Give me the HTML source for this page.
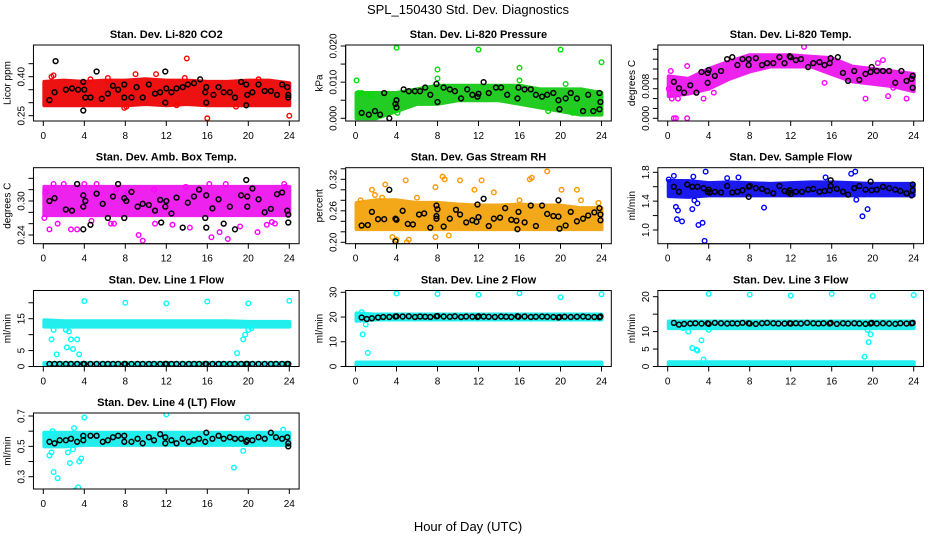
<!DOCTYPE html>
<html><head><meta charset="utf-8"><style>
html,body{margin:0;padding:0;background:#fff;}
svg{display:block;font-family:"Liberation Sans",Arial,sans-serif;}
</style></head><body>
<svg id="chart" width="936" height="540" viewBox="0 0 936 540" xmlns="http://www.w3.org/2000/svg">
<rect width="936" height="540" fill="#fff"/>
<text x="468" y="14" text-anchor="middle" font-size="13">SPL_150430  Std. Dev. Diagnostics</text>
<text x="468" y="531" text-anchor="middle" font-size="13">Hour of Day (UTC)</text>
<g id="panels"></g>
</svg>
<script>
// ---- shared data ----
const xTicks = [0,4,8,12,16,20,24];
const bandHours = [0,2,4,6,8,10,12,14,16,18,20,22,24];
const flowHours = [0.6,1.1,1.6,2.2,2.7,3.3,3.9,4.0,4.6,5.2,5.8,6.3,6.8,7.3,7.9,8.0,8.6,9.2,9.7,10.3,10.8,11.4,11.9,12.0,12.5,13.0,13.6,14.2,14.7,15.2,15.8,15.9,16.5,17.1,17.6,18.2,18.7,19.3,19.8,19.9,20.4,21.0,21.6,22.2,22.7,23.3,23.8,23.9];

// ---- CO2 ----
const co2Lo = [0.29,0.29,0.29,0.29,0.29,0.295,0.29,0.295,0.29,0.29,0.29,0.29,0.29];
const co2Hi = [0.38,0.385,0.38,0.385,0.385,0.39,0.385,0.385,0.38,0.38,0.385,0.385,0.375];
const co2Black = [[0.6,0.31],[1.2,0.46],[1.1,0.34],[2.2,0.35],[2.8,0.355],[3.4,0.35],[3.9,0.38],[3.9,0.27],[4.0,0.35],[4.1,0.32],[4.6,0.32],[5.2,0.42],[5.7,0.315],[6.3,0.335],[6.8,0.365],[7.3,0.35],[7.9,0.32],[7.9,0.37],[8.6,0.32],[9.1,0.36],[9.7,0.32],[10.3,0.37],[10.9,0.335],[11.4,0.34],[11.9,0.42],[11.9,0.30],[12.0,0.355],[12.5,0.34],[13.0,0.355],[13.6,0.36],[14.1,0.37],[14.7,0.375],[15.3,0.39],[15.8,0.34],[15.9,0.36],[15.9,0.30],[16.6,0.33],[17.1,0.36],[17.6,0.34],[18.2,0.34],[18.7,0.32],[19.3,0.38],[19.8,0.37],[19.9,0.33],[19.8,0.29],[20.4,0.34],[21.0,0.37],[21.6,0.345],[22.2,0.345],[22.8,0.33],[23.3,0.37],[23.8,0.36],[23.9,0.33],[23.9,0.32]];
const co2Out = [[14,0.47],[16,0.24],[24,0.25],[7.9,0.28],[8.1,0.285],[13,0.29],[0.8,0.40],[1.0,0.405],[9,0.41],[11,0.41],[4.6,0.39],[6.3,0.395],[13.8,0.395],[18.8,0.285],[21.0,0.39]];

// ---- Pressure ----
const presLo = [0.000,0.000,0.002,0.004,0.004,0.005,0.005,0.005,0.004,0.003,0.002,0.001,0.001];
const presHi = [0.007,0.007,0.007,0.008,0.009,0.009,0.009,0.009,0.009,0.008,0.008,0.008,0.007];
const presBlack = [[0.6,0.0015],[1.3,0.001],[1.9,0.002],[2.4,0.001],[2.8,0.007],[3.3,0.0],[3.9,0.004],[4.0,0.005],[4.0,0.003],[4.7,0.008],[5.2,0.0075],[5.8,0.0075],[6.3,0.0075],[6.8,0.0085],[7.3,0.0065],[7.9,0.0095],[8.0,0.0045],[8.6,0.0085],[9.2,0.008],[9.7,0.0075],[10.3,0.0055],[10.9,0.008],[11.4,0.0065],[11.9,0.006],[12.0,0.0068],[12.5,0.01],[13.0,0.007],[13.7,0.0085],[14.2,0.0085],[14.8,0.0065],[15.8,0.0055],[15.9,0.0085],[16.5,0.008],[17.1,0.008],[17.6,0.0065],[18.2,0.006],[18.7,0.0065],[19.3,0.007],[19.8,0.005],[19.9,0.0025],[20.5,0.0055],[21.0,0.007],[21.6,0.0055],[22.2,0.002],[22.7,0.0065],[23.2,0.002],[23.8,0.0025],[23.9,0.0045],[23.8,0.007]];
const presOut = [[0.1,0.0105],[4.0,0.0195],[12,0.019],[20,0.019],[24,0.0155],[8,0.0135],[8,0.011],[16,0.014],[16,0.0105],[4.1,0.0015],[20.5,0.0095],[0.3,0.007],[0.6,0.007],[1.5,0.0065],[18.8,0.002],[21.2,0.0015]];

// ---- Li-820 Temp ----
const tempLo = [0.0045,0.005,0.006,0.008,0.0095,0.0105,0.0105,0.0105,0.009,0.0075,0.007,0.0065,0.0055];
const tempHi = [0.0085,0.008,0.010,0.0115,0.0128,0.0128,0.0128,0.0125,0.0122,0.0105,0.010,0.0095,0.009];
const tempBlack = [[0.6,0.0074],[1.1,0.0061],[1.6,0.0052],[2.2,0.0067],[2.8,0.0052],[3.3,0.0094],[3.9,0.0072],[3.9,0.0092],[4.0,0.0098],[4.6,0.0086],[5.2,0.0096],[5.8,0.0120],[6.3,0.0124],[6.8,0.0108],[7.3,0.0120],[7.9,0.0120],[7.9,0.0108],[8.6,0.0122],[9.2,0.0108],[9.7,0.0112],[10.3,0.0112],[10.9,0.0124],[11.4,0.0112],[11.9,0.0126],[12.0,0.0124],[12.5,0.0118],[13.0,0.0120],[13.7,0.0104],[14.2,0.0112],[14.8,0.0114],[15.3,0.0108],[15.8,0.0112],[15.9,0.0122],[16.6,0.0124],[17.1,0.0092],[17.6,0.0076],[18.2,0.0096],[18.7,0.0078],[19.3,0.0090],[19.8,0.0094],[19.9,0.0104],[20.4,0.0096],[21.0,0.0096],[21.6,0.0096],[22.2,0.0072],[22.8,0.0096],[23.3,0.0076],[23.9,0.0086],[23.9,0.0062],[23.8,0.0080]];
const tempOut = [[0.6,0.0],[0.8,0.0],[1.9,0.0],[0.4,0.004],[1.0,0.004],[3.5,0.004],[19.3,0.004],[21.5,0.0045],[23.3,0.004],[13.3,0.0145],[15.3,0.0072],[4.5,0.0052],[0.3,0.0096],[1.9,0.0106],[21.0,0.0118],[20.5,0.0112],[22.0,0.0062],[0.1,0.006]];

// ---- Amb Box Temp ----
const ambLo = [0.275,0.275,0.275,0.275,0.275,0.275,0.275,0.275,0.275,0.275,0.275,0.275,0.275];
const ambHi = [0.325,0.325,0.325,0.325,0.325,0.325,0.325,0.325,0.325,0.325,0.325,0.325,0.325];
const ambBlack = [[0.6,0.30],[1.1,0.305],[2.2,0.285],[2.8,0.283],[3.3,0.33],[3.9,0.31],[3.9,0.29],[3.9,0.25],[4.1,0.30],[4.6,0.258],[5.2,0.313],[5.8,0.295],[6.3,0.27],[6.8,0.308],[7.3,0.33],[7.9,0.305],[7.9,0.27],[8.1,0.30],[8.6,0.316],[9.2,0.29],[9.7,0.295],[10.3,0.293],[10.9,0.283],[11.4,0.302],[11.5,0.262],[11.9,0.29],[12.0,0.30],[12.5,0.278],[13.0,0.306],[13.6,0.253],[14.1,0.297],[14.7,0.308],[15.2,0.320],[15.8,0.27],[15.9,0.31],[15.9,0.253],[16.5,0.287],[17.1,0.303],[17.6,0.260],[18.2,0.290],[18.7,0.250],[19.3,0.310],[19.8,0.337],[19.9,0.308],[19.9,0.290],[20.4,0.322],[21.0,0.303],[21.6,0.28],[22.2,0.286],[22.8,0.312],[23.3,0.315],[23.8,0.283],[23.9,0.276],[23.9,0.262]];
const ambOut = [[0.6,0.25],[1.4,0.26],[2.7,0.25],[3.3,0.25],[4.0,0.33],[5.2,0.33],[6.6,0.26],[9.3,0.24],[9.7,0.23],[10.9,0.26],[12.6,0.258],[14.3,0.253],[16.4,0.236],[17.2,0.245],[17.8,0.33],[18.0,0.233],[20.9,0.245],[21.8,0.258],[22.3,0.263],[23.5,0.33],[23.6,0.325],[1.0,0.33],[0.2,0.315],[7.1,0.32],[10.8,0.32],[8.2,0.315],[13.9,0.325],[0.1,0.27],[2.0,0.33],[4.7,0.265],[6.9,0.26],[19.2,0.255],[22.6,0.26],[16.2,0.33]];

// ---- Gas Stream RH ----
const rhLo = [0.225,0.225,0.225,0.225,0.225,0.225,0.225,0.225,0.225,0.225,0.225,0.225,0.225];
const rhHi = [0.275,0.28,0.28,0.275,0.275,0.272,0.27,0.27,0.272,0.27,0.27,0.265,0.265];
const rhBlack = [[0.6,0.232],[1.2,0.233],[1.6,0.258],[2.2,0.244],[2.8,0.244],[3.3,0.30],[3.9,0.245],[3.9,0.202],[4.0,0.243],[4.6,0.260],[5.1,0.235],[5.6,0.234],[6.2,0.253],[6.7,0.255],[7.3,0.228],[7.9,0.270],[7.9,0.250],[7.9,0.245],[8.0,0.263],[8.6,0.230],[9.2,0.245],[9.8,0.262],[10.2,0.253],[10.8,0.238],[11.4,0.242],[11.8,0.239],[11.9,0.272],[12.0,0.248],[12.5,0.283],[13.0,0.231],[13.5,0.245],[14.1,0.247],[14.6,0.265],[15.2,0.243],[15.7,0.241],[15.8,0.225],[15.9,0.258],[16.5,0.238],[17.1,0.270],[17.6,0.231],[18.2,0.270],[18.7,0.254],[19.3,0.250],[19.8,0.249],[19.8,0.280],[19.9,0.226],[20.5,0.232],[21.0,0.258],[21.6,0.240],[22.2,0.245],[22.7,0.251],[23.3,0.257],[23.8,0.265],[23.9,0.253],[23.9,0.242]];
const rhOut = [[4.9,0.318],[2.9,0.31],[8.5,0.325],[8.7,0.32],[10.2,0.318],[12.3,0.318],[17.0,0.32],[17.2,0.323],[18.7,0.335],[20.1,0.30],[21.6,0.30],[1.9,0.29],[1.6,0.30],[7.8,0.305],[4.0,0.205],[5.0,0.2],[5.2,0.205],[7.8,0.21],[9.1,0.213],[3.6,0.21],[22.0,0.28],[16.0,0.28],[6.0,0.285],[2.6,0.285],[11.6,0.3],[13.5,0.295],[0.5,0.28],[23.7,0.275]];

// ---- Sample Flow ----
const sfLo = [1.47,1.46,1.48,1.48,1.48,1.48,1.48,1.48,1.48,1.48,1.48,1.48,1.48];
const sfHi = [1.68,1.68,1.65,1.66,1.65,1.64,1.65,1.66,1.66,1.65,1.64,1.64,1.64];
const sfBlack = [[0.6,1.60],[1.1,1.53],[1.9,1.63],[2.4,1.60],[2.9,1.60],[3.5,1.58],[3.9,1.53],[4.0,1.56],[4.1,1.52],[4.6,1.53],[5.2,1.52],[5.8,1.61],[6.3,1.52],[6.8,1.53],[7.3,1.55],[7.9,1.46],[7.9,1.60],[8.0,1.61],[8.6,1.58],[9.2,1.57],[9.7,1.54],[10.3,1.51],[10.9,1.61],[11.4,1.54],[11.8,1.52],[11.9,1.55],[12.0,1.50],[12.5,1.53],[13.1,1.53],[13.7,1.56],[14.2,1.57],[14.8,1.53],[15.3,1.54],[15.8,1.55],[15.9,1.61],[15.9,1.69],[16.5,1.57],[17.1,1.53],[17.6,1.49],[18.2,1.58],[18.7,1.61],[19.3,1.56],[19.8,1.67],[19.9,1.55],[20.4,1.56],[21.0,1.60],[21.6,1.58],[22.2,1.56],[22.7,1.54],[23.3,1.51],[23.8,1.48],[23.9,1.55],[23.9,1.63]];
const sfOut = [[0.9,1.15],[1.4,1.12],[0.8,1.32],[1.0,1.27],[2.4,1.29],[2.6,1.41],[2.9,1.37],[3.0,1.07],[3.4,1.10],[3.6,0.85],[3.7,1.81],[0.6,1.75],[2.5,1.74],[9.4,1.31],[17.9,1.78],[18.3,1.81],[19.0,1.19],[19.5,1.29],[18.4,1.42],[6.9,1.73],[15.4,1.73],[0.1,1.70],[5.8,1.72]];

// ---- Line 1 Flow ----
const l1Lo = [12.5,12.5,12.5,12.5,12.5,12.5,12.5,12.5,12.5,12.5,12.5,12.5,12.5];
const l1Hi = [14.5,14.2,14.2,14.2,14.2,14.2,14.2,14.2,14.2,14.2,14.0,14.0,14.0];
const l1BaseLo = [0.4,0.4,0.4,0.4,0.4,0.4,0.4,0.4,0.4,0.4,0.4,0.4,0.4];
const l1BaseHi = [1.1,1.1,1.1,1.1,1.1,1.1,1.1,1.1,1.1,1.1,1.1,1.1,1.1];
const l1BlackVals = [0.8,0.8,0.8,0.8,0.8,0.8,0.8,0.8,0.8,0.8,0.8,0.8,0.8,0.8,0.8,0.8,0.8,0.8,0.8,0.8,0.8,0.8,0.8,0.8,0.8,0.8,0.8,0.8,0.8,0.8,0.8,0.8,0.8,0.8,0.8,0.8,0.8,0.8,0.8,0.8,0.8,0.8,0.8,0.8,0.8,0.8,0.8,0.8];
const l1Out = [[4,20.5],[8,20],[12,19.8],[16,20.4],[20,19.8],[24,20.6],[0.8,8.5],[1.0,11.5],[1.3,3.8],[2.3,6],[2.5,11],[2.7,8.5],[2.9,5.5],[3.3,8.5],[3.5,3.8],[2.2,11.5],[18.9,4.2],[19.5,8.5],[19.7,10],[20.0,11.5],[20.3,12]];

// ---- Line 2 Flow ----
const l2Lo = [18.5,19,19,19,19,19,19,19,19,19,19,19,19];
const l2Hi = [21.5,21,21,21,21,21,21,21,21,21,21,21,21];
const l2BaseLo = [0.2,0.2,0.2,0.2,0.2,0.2,0.2,0.2,0.2,0.2,0.2,0.2,0.2];
const l2BaseHi = [1.6,1.6,1.6,1.6,1.6,1.6,1.6,1.6,1.6,1.6,1.6,1.6,1.6];
const l2BlackVals = [19.8,19.2,19.5,19.8,20,20,20.2,20.3,20.2,20.3,20.0,20.2,20.1,20.0,20.3,20.4,20.2,20.1,20.3,20.0,20.2,20.1,20.0,20.3,20.2,20.1,20.0,20.2,20.1,20.0,20.3,20.1,20.2,20.0,20.1,20.2,20.1,20.0,19.8,20.0,20.1,20.0,20.1,20.2,20.0,20.0,19.9,20.2];
const l2Out = [[4,29.5],[8,29.3],[12,29],[16,29.6],[20,28],[24,29.2],[0.6,22],[0.7,13],[1.2,5.5],[1.0,17]];

// ---- Line 3 Flow ----
const l3Lo = [11,11,11,11,11,11,11,11,11,11,11,11,11];
const l3Hi = [12.9,12.9,12.9,12.9,12.9,12.9,12.9,12.9,12.9,12.9,12.9,12.9,12.9];
const l3BaseLo = [0.3,0.3,0.3,0.3,0.3,0.3,0.3,0.3,0.3,0.3,0.3,0.3,0.3];
const l3BaseHi = [1.2,1.2,1.2,1.2,1.2,1.2,1.2,1.2,1.2,1.2,1.2,1.2,1.2];
const l3BlackVals = [12.5,12.0,12.2,12.3,12.4,12.3,12.4,12.2,12.5,12.4,12.3,12.4,12.3,12.5,12.4,12.3,12.2,12.4,12.5,12.4,12.3,12.3,12.4,12.3,12.4,12.3,12.5,12.4,12.3,12.4,12.3,12.5,12.2,12.4,12.3,12.4,12.3,12.2,12.3,12.5,12.3,12.4,12.3,12.2,12.4,12.3,12.4,12.5];
const l3Out = [[4,20.8],[8,20.6],[12,20.3],[16,20.8],[20,20.2],[24,20.5],[1.5,11],[2.0,10],[2.4,5.3],[2.8,4.8],[2.9,4.6],[3.5,2],[3.3,7.5],[4.0,10.5],[19.2,2.8],[19.6,7],[19.8,9.2],[19.5,10.5]];

// ---- Line 4 Flow ----
const l4Lo = [0.50,0.50,0.51,0.51,0.51,0.51,0.51,0.51,0.51,0.51,0.51,0.51,0.51];
const l4Hi = [0.59,0.59,0.59,0.59,0.59,0.59,0.59,0.59,0.59,0.59,0.59,0.59,0.59];
const l4Black = [[0.6,0.53],[1.1,0.52],[1.6,0.54],[2.2,0.54],[2.7,0.55],[3.3,0.53],[3.9,0.57],[3.9,0.54],[4.6,0.57],[5.2,0.57],[5.8,0.53],[6.3,0.54],[6.8,0.56],[7.3,0.57],[7.9,0.57],[7.9,0.53],[8.6,0.53],[9.2,0.55],[9.7,0.52],[10.3,0.56],[10.8,0.54],[11.4,0.58],[11.9,0.56],[11.9,0.52],[12.5,0.54],[13.0,0.52],[13.6,0.55],[14.2,0.53],[14.7,0.54],[15.2,0.55],[15.8,0.53],[15.9,0.59],[16.5,0.55],[17.1,0.57],[17.6,0.55],[18.2,0.56],[18.7,0.55],[19.3,0.55],[19.8,0.53],[19.9,0.54],[20.4,0.54],[21.0,0.56],[21.6,0.55],[22.2,0.59],[22.7,0.56],[23.3,0.55],[23.8,0.56],[23.9,0.52],[23.9,0.50]];
const l4Out = [[0.2,0.58],[0.6,0.44],[0.8,0.46],[1.0,0.33],[1.4,0.29],[2.4,0.46],[2.6,0.39],[2.9,0.48],[3.0,0.62],[3.1,0.21],[3.4,0.23],[3.5,0.40],[3.7,0.42],[4.0,0.69],[12,0.71],[19.9,0.69],[18.6,0.36],[19.5,0.47],[0.9,0.6],[23.4,0.61]];

// ---- layout ----
const NS = "http://www.w3.org/2000/svg";
const root = document.getElementById('panels');
const colX0 = [43.3, 355.5, 667.7];
const rowTop = [45, 167.7, 290.5, 413];
const PH = 76, XS = 10.25;

function mk(tag, attrs, parent){
  const e = document.createElementNS(NS, tag);
  for (const k in attrs) e.setAttribute(k, attrs[k]);
  parent.appendChild(e);
  return e;
}

const panels = [
 {name:'co2', title:'Stan. Dev. Li-820 CO2', ylab:'Licor ppm', r:0,c:0, v0:0.25,p0:70.7,v1:0.40,p1:31.7, ticks:[0.25,0.30,0.35,0.40,0.45], labels:[[0.25,'0.25'],[0.40,'0.40']], color:'#ff0000', band:'#ee1111', lo:co2Lo, hi:co2Hi, black:co2Black, out:co2Out},
 {name:'pressure', title:'Stan. Dev. Li-820 Pressure', ylab:'kPa', r:0,c:1, v0:0,p0:73.3,v1:0.020,p1:1, ticks:[0,0.005,0.010,0.015,0.020], labels:[[0,'0.000'],[0.010,'0.010'],[0.020,'0.020']], color:'#00dd00', band:'#22cc22', lo:presLo, hi:presHi, black:presBlack, out:presOut},
 {name:'li820-temp', title:'Stan. Dev. Li-820 Temp.', ylab:'degrees C', r:0,c:2, v0:0,p0:73.3,v1:0.014,p1:4.3, ticks:[0,0.002,0.004,0.006,0.008,0.010,0.012,0.014], labels:[[0,'0.000'],[0.0065,'0.008']], color:'#ff00ff', band:'#ee22ee', lo:tempLo, hi:tempHi, black:tempBlack, out:tempOut},
 {name:'amb-box-temp', title:'Stan. Dev. Amb. Box Temp.', ylab:'degrees C', r:1,c:0, v0:0.24,p0:67.3,v1:0.30,p1:33.3, ticks:[0.24,0.26,0.28,0.30,0.32,0.34], labels:[[0.24,'0.24'],[0.30,'0.30']], color:'#ff00ff', band:'#ee22ee', lo:ambLo, hi:ambHi, black:ambBlack, out:ambOut},
 {name:'gas-stream-rh', title:'Stan. Dev. Gas Stream RH', ylab:'percent', r:1,c:1, v0:0.20,p0:74.6,v1:0.32,p1:11.6, ticks:[0.20,0.22,0.24,0.26,0.28,0.30,0.32,0.34], labels:[[0.20,'0.20'],[0.26,'0.26'],[0.32,'0.32']], color:'#ff9900', band:'#f2a818', lo:rhLo, hi:rhHi, black:rhBlack, out:rhOut},
 {name:'sample-flow', title:'Stan. Dev. Sample Flow', ylab:'ml/min', r:1,c:2, v0:1.0,p0:62.3,v1:1.8,p1:4.6, ticks:[1.0,1.2,1.4,1.6,1.8], labels:[[1.0,'1.0'],[1.4,'1.4'],[1.8,'1.8']], color:'#0000ff', band:'#1a1aee', lo:sfLo, hi:sfHi, black:sfBlack, out:sfOut},
 {name:'line1-flow', title:'Stan. Dev. Line 1 Flow', ylab:'ml/min', r:2,c:0, v0:0,p0:76,v1:15,p1:28.2, ticks:[0,5,10,15,20], labels:[[0,'0'],[5,'5'],[15,'15']], color:'#00ffff', band:'#22eeee', lo:l1Lo, hi:l1Hi, baseLo:l1BaseLo, baseHi:l1BaseHi, black:flowHours.map((h,i)=>[h,l1BlackVals[i]]), out:l1Out},
 {name:'line2-flow', title:'Stan. Dev. Line 2 Flow', ylab:'ml/min', r:2,c:1, v0:0,p0:76,v1:30,p1:1.8, ticks:[0,10,20,30], labels:[[0,'0'],[10,'10'],[20,'20'],[30,'30']], color:'#00ffff', band:'#22eeee', lo:l2Lo, hi:l2Hi, baseLo:l2BaseLo, baseHi:l2BaseHi, black:flowHours.map((h,i)=>[h,l2BlackVals[i]]), out:l2Out},
 {name:'line3-flow', title:'Stan. Dev. Line 3 Flow', ylab:'ml/min', r:2,c:2, v0:0,p0:76,v1:20,p1:6.2, ticks:[0,5,10,15,20], labels:[[0,'0'],[5,'5'],[10,'10'],[20,'20']], color:'#00ffff', band:'#22eeee', lo:l3Lo, hi:l3Hi, baseLo:l3BaseLo, baseHi:l3BaseHi, black:flowHours.map((h,i)=>[h,l3BlackVals[i]]), out:l3Out},
 {name:'line4-flow', title:'Stan. Dev. Line 4 (LT) Flow', ylab:'ml/min', r:3,c:0, v0:0.3,p0:63.7,v1:0.7,p1:3, ticks:[0.3,0.4,0.5,0.6,0.7], labels:[[0.3,'0.3'],[0.5,'0.5'],[0.7,'0.7']], color:'#00ffff', band:'#22eeee', lo:l4Lo, hi:l4Hi, black:l4Black, out:l4Out}
];

panels.forEach(p => {
  const x0 = colX0[p.c], top = rowTop[p.r];
  const left = x0 - 9.84, right = x0 + 255.8, bottom = top + PH;
  const xs = h => x0 + h * XS;
  const ys = v => top + p.p0 + (v - p.v0) * (p.p1 - p.p0) / (p.v1 - p.v0);
  const g = mk('g', {}, root);
  
  
  const clipId = 'clip-' + p.name;
  const cp = mk('clipPath', {id: clipId}, g);
  mk('rect', {x:left, y:top, width:right-left, height:PH}, cp);
  const plot = mk('g', {'clip-path':'url(#' + clipId + ')'}, g);

  function band(lo, hi, fill, nm){
    let pts = bandHours.map((h,i) => xs(Math.max(h,0.1)) + ',' + ys(hi[i]));
    pts = pts.concat(bandHours.slice().reverse().map((h,j) => { const i = bandHours.length-1-j; return xs(Math.max(h,0.1)) + ',' + ys(lo[i]); }));
    const poly = mk('polygon', {points: pts.join(' '), fill: fill, stroke: fill, 'stroke-width': 4, 'stroke-linejoin':'round'}, plot);
    
    
  }
  band(p.lo, p.hi, p.band, p.name + '-data-band');
  if (p.baseLo) band(p.baseLo, p.baseHi, p.band, p.name + '-baseline-band');

  p.out.forEach(d => {
    const c = mk('circle', {cx: xs(d[0]), cy: ys(d[1]), r: 2.3, fill: 'none', stroke: p.color, 'stroke-width': 1.4}, plot);
    
    
  });
  p.black.forEach(d => {
    const c = mk('circle', {cx: xs(d[0]), cy: ys(d[1]), r: 2.4, fill: 'none', stroke: '#000', 'stroke-width': 1.5}, plot);
    
    
  });

  const box = mk('rect', {x:left, y:top, width:right-left, height:PH, fill:'none', stroke:'#000', 'stroke-width':1}, g);
  
  

  const t = mk('text', {x:(left+right)/2, y:top-7, 'text-anchor':'middle', 'font-size':11, 'font-weight':'bold'}, g);
  t.textContent = p.title;
  
  

  // x axis
  mk('line', {x1:xs(0), x2:xs(24), y1:bottom, y2:bottom, stroke:'#000'}, g);
  xTicks.forEach(h => {
    mk('line', {x1:xs(h), x2:xs(h), y1:bottom, y2:bottom+5, stroke:'#000'}, g);
    const tl = mk('text', {x:xs(h), y:bottom+18, 'text-anchor':'middle', 'font-size':10}, g);
    tl.textContent = h;
    
    
  });
  // y axis
  const tks = p.ticks;
  mk('line', {x1:left, x2:left, y1:ys(tks[0]), y2:ys(tks[tks.length-1]), stroke:'#000'}, g);
  tks.forEach(v => mk('line', {x1:left-5, x2:left, y1:ys(v), y2:ys(v), stroke:'#000'}, g));
  p.labels.forEach(l => {
    const yy = ys(l[0]);
    const tl = mk('text', {x:left-9, y:yy, 'text-anchor':'middle', 'font-size':10, transform:'rotate(-90 ' + (left-9) + ' ' + yy + ')'}, g);
    tl.textContent = l[1];
    
    
  });
  const yt = mk('text', {x:left-23, y:top+PH/2, 'text-anchor':'middle', 'font-size':10, transform:'rotate(-90 ' + (left-23) + ' ' + (top+PH/2) + ')'}, g);
  yt.textContent = p.ylab;
  
  
});
</script>
</body></html>
